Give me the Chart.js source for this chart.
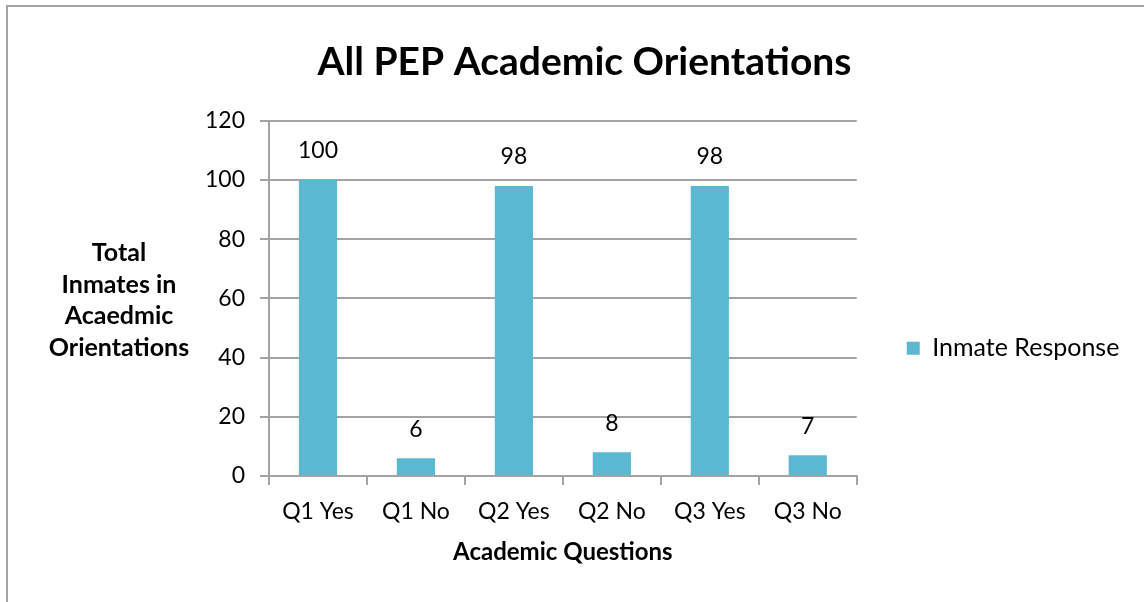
<!DOCTYPE html>
<html>
<head>
<meta charset="utf-8">
<title>All PEP Academic Orientations</title>
<script src="https://cdn.jsdelivr.net/npm/chart.js@4.4.1/dist/chart.umd.min.js"></script>
<style>
  html, body { margin: 0; padding: 0; background: #fff; }
  #frame {
    position: absolute; left: 6px; top: 5px; width: 1400px; height: 800px;
    border-left: 2px solid #a3a3a3; border-top: 2px solid #a3a3a3;
  }
  #wrap { position: absolute; left: 0; top: 0; width: 1144px; height: 602px; }
</style>
</head>
<body>
<div id="frame"></div>
<div id="wrap"><canvas id="chart"></canvas></div>
<script>
// chart data
const categories = ['Q1 Yes', 'Q1 No', 'Q2 Yes', 'Q2 No', 'Q3 Yes', 'Q3 No'];
const responses = [100, 6, 98, 8, 98, 7];
const yTickValues = [0, 20, 40, 60, 80, 100, 120];
const seriesName = 'Inmate Response';
const chartTitle = 'All PEP Academic Orientations';
const xTitle = 'Academic Questions';
const yTitleLines = ['Total', 'Inmates in', 'Acaedmic', 'Orientations'];

const FONT = 'Lato';
const BAR = '#5bb8d1';
const GRID = '#a3a3a3';

// value labels above each bar
const valueLabels = {
  id: 'valueLabels',
  afterDatasetsDraw(chart) {
    const ctx = chart.ctx;
    const meta = chart.getDatasetMeta(0);
    ctx.save();
    ctx.font = `23px ${FONT}`;
    ctx.fillStyle = '#000';
    ctx.textAlign = 'center';
    ctx.textBaseline = 'middle';
    meta.data.forEach((bar, i) => {
      ctx.fillText(String(responses[i]), bar.x, bar.y - 29);
    });
    ctx.restore();
  }
};

// horizontal, multi-line y axis title (Excel style)
const yTitle = {
  id: 'yTitle',
  afterDraw(chart) {
    const ctx = chart.ctx;
    const area = chart.chartArea;
    const step = 31.7;
    const mid = (area.top + area.bottom) / 2 + 2;
    const start = mid - step * (yTitleLines.length - 1) / 2;
    ctx.save();
    ctx.font = `bold 25px ${FONT}`;
    ctx.fillStyle = '#000';
    ctx.textAlign = 'center';
    ctx.textBaseline = 'middle';
    yTitleLines.forEach((line, i) => ctx.fillText(line, 119, start + i * step));
    ctx.restore();
  }
};

new Chart(document.getElementById('chart'), {
  type: 'bar',
  data: {
    labels: categories,
    datasets: [{
      label: seriesName,
      data: responses,
      backgroundColor: BAR,
      borderWidth: 0,
      categoryPercentage: 1,
      barPercentage: 0.39
    }]
  },
  options: {
    responsive: true,
    maintainAspectRatio: false,
    animation: false,
    layout: { padding: { left: 40, right: 15, top: 0, bottom: 0 } },
    plugins: {
      title: {
        display: true,
        text: chartTitle,
        color: '#000',
        font: { family: FONT, size: 39, weight: 'bold' },
        padding: { top: 39, bottom: 35 }
      },
      legend: {
        position: 'right',
        title: { display: true, text: '', padding: { top: 0, bottom: 80 } },
        labels: {
          color: '#000',
          font: { family: FONT, size: 25 },
          boxWidth: 13,
          boxHeight: 13,
          padding: 50
        }
      },
      tooltip: { enabled: false }
    },
    scales: {
      x: {
        afterFit: (s) => { s.height = 126; },
        grid: { drawOnChartArea: false, drawTicks: true, tickLength: 9, color: GRID, lineWidth: 2 },
        border: { color: GRID, width: 2 },
        ticks: { color: '#000', font: { family: FONT, size: 23 }, padding: 13 },
        title: {
          display: true,
          text: xTitle,
          color: '#000',
          font: { family: FONT, size: 24, weight: 'bold' },
          padding: { top: 0, bottom: 35 }
        }
      },
      y: {
        min: yTickValues[0],
        max: yTickValues[yTickValues.length - 1],
        afterFit: (s) => { s.width = 229; },
        afterBuildTicks: (s) => { s.ticks = yTickValues.map(v => ({ value: v })); },
        grid: { color: GRID, lineWidth: 2, tickLength: 9 },
        border: { color: GRID, width: 2 },
        ticks: { color: '#000', font: { family: FONT, size: 23 }, padding: 15 }
      }
    }
  },
  plugins: [valueLabels, yTitle]
});
</script>
</body>
</html>
